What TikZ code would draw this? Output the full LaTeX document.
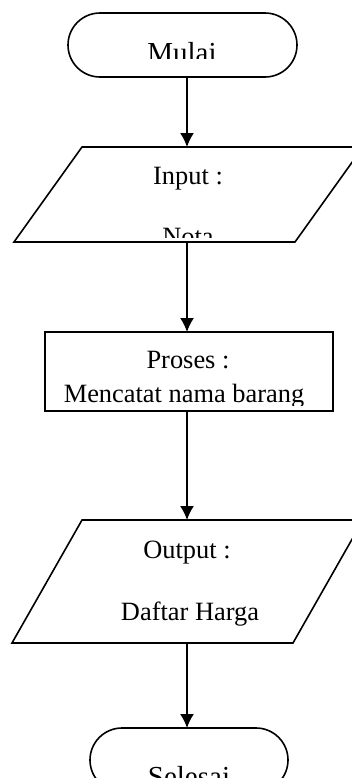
\documentclass[tikz,border=0pt]{standalone}
\usepackage{fontspec}
\setmainfont{Liberation Serif}
\usetikzlibrary{shapes.misc,arrows.meta}

\begin{document}
\begin{tikzpicture}[x=0.5pt,y=-0.5pt,line width=0.8pt,
    txt/.style={anchor=base,inner sep=0pt,font=\fontsize{13.2}{16}\selectfont},
    bigtxt/.style={txt,font=\fontsize{14.5}{17}\selectfont}]
            \useasboundingbox (0,0) rectangle (352,778);
            \clip (0,0) rectangle (352,778);
            \begin{scope}[every node/.style={draw,inner sep=0pt,outer sep=0pt}]
                \node[rounded rectangle,minimum width=114.5pt,minimum height=32pt] (mulai) at (182.5,45) {};
                \node[draw=none,minimum width=174.5pt,minimum height=47.5pt] (input) at (188.5,194.5) {};
                \node[rectangle,minimum width=144pt,minimum height=39.5pt] (proses) at (189,371.5) {};
                \node[draw=none,minimum width=175.5pt,minimum height=61.5pt] (output) at (187.5,581.5) {};
                \node[rounded rectangle,minimum width=99pt,minimum height=32pt] (selesai) at (189,760) {};
            \end{scope}
            \draw (input.south west) -- ([xshift=-34pt]input.south east) -- (input.north east)
                -- ([xshift=34pt]input.north west) -- cycle;
            \draw (output.south west) -- ([xshift=-35pt]output.south east) -- (output.north east)
                -- ([xshift=35pt]output.north west) -- cycle;
            \begin{scope}
                \clip (60,20) rectangle (300,58);
                \node[bigtxt] (tmulai) at (182,62) {Mulai};
            \end{scope}
            \node[txt] (tinput) at (188,184) {Input :};
            \begin{scope}
                \clip (0,200) rectangle (352,237);
                \node[txt] (tnota) at (188,245) {Nota};
            \end{scope}
            \node[txt] (tproses) at (188,368) {Proses :};
            \begin{scope}
                \clip (0,380) rectangle (352,405);
                \node[txt] (tcatat) at (184,402) {Mencatat nama barang};
            \end{scope}
            \node[txt] (toutput) at (187,558) {Output :};
            \node[txt] (tdaftar) at (190,620) {Daftar Harga};
            \node[bigtxt] (tselesai) at (189,786) {Selesai};
            \coordinate (spine) at (187,0);
            \begin{scope}[every edge/.style={draw,-{Latex[length=7pt,width=7pt]}}]
                \path (spine |- mulai.south) edge (spine |- input.north);
                \path (spine |- input.south) edge (spine |- proses.north);
                \path (spine |- proses.south) edge (spine |- output.north);
                \path (spine |- output.south) edge (spine |- selesai.north);
            \end{scope}
        \end{tikzpicture}
\end{document}
